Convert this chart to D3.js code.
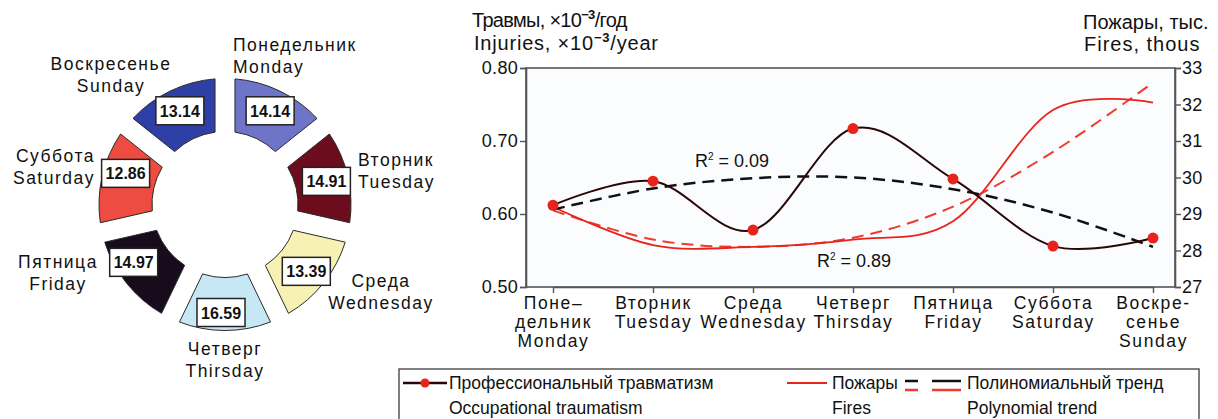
<!DOCTYPE html>
<html>
<head>
<meta charset="utf-8">
<script src="https://cdn.jsdelivr.net/npm/d3@7"></script>
<style>
  body { margin: 0; background: #fff; }
  text { font-family: "Liberation Sans", Arial, sans-serif; fill: #111; }
</style>
</head>
<body>
<svg id="chart" width="1218" height="419"></svg>
<script>
// ---- data ----
const days = ["Monday", "Tuesday", "Wednesday", "Thirsday", "Friday", "Saturday", "Sunday"];
const daysRu = ["Понедельник", "Вторник", "Среда", "Четверг", "Пятница", "Суббота", "Воскресенье"];
const shares = [14.14, 14.91, 13.39, 16.59, 14.97, 12.86, 13.14];
const ringColors = ["#6e75c8", "#6b0d1d", "#f7f1b4", "#c6e7f4", "#170b1c", "#ee4b41", "#2e40a6"];

const tickLines = [
  ["Поне–", "дельник", "Monday"],
  ["Вторник", "Tuesday"],
  ["Среда", "Wednesday"],
  ["Четверг", "Thirsday"],
  ["Пятница", "Friday"],
  ["Суббота", "Saturday"],
  ["Воскре-", "сенье", "Sunday"]
];

const injuries = [0.612, 0.645, 0.578, 0.717, 0.648, 0.556, 0.567];
const fires = [29.2, 28.15, 28.1, 28.3, 28.8, 31.85, 32.05];
const injuriesTrend = [0.606, 0.635, 0.649, 0.650, 0.634, 0.602, 0.555];
const firesTrend = [29.1, 28.3, 28.1, 28.35, 29.2, 30.7, 32.6];

const leftTicks = [0.5, 0.6, 0.7, 0.8];
const rightTicks = [27, 28, 29, 30, 31, 32, 33];

// where the two-line day names sit round the ring
const ringLabels = [
  {x: 233, y: 62, anchor: "start"},
  {x: 358, y: 177, anchor: "start"},
  {x: 381, y: 298, anchor: "middle"},
  {x: 225, y: 366, anchor: "middle"},
  {x: 58, y: 279, anchor: "middle"},
  {x: 95, y: 173, anchor: "end"},
  {x: 111, y: 81, anchor: "middle"}
];
// nudges for the value boxes (the original ring is drawn a bit unevenly)
const boxNudge = [[0, 0], [0, 0], [0, 2], [-4, 4], [-10, -7], [2, -8], [0, 0]];

const svg = d3.select("#chart");

// ---- left: ring of days ----
const ring = svg.append("g").attr("transform", "translate(225,204.5)");

const pie = d3.pie().value(1).sort(null);
const arcs = pie(shares);

const arc = d3.arc().innerRadius(73).outerRadius(126).padAngle(0.137);
const boxArc = d3.arc().innerRadius(104).outerRadius(104);

ring.selectAll("path.seg")
  .data(arcs)
  .enter().append("path")
    .attr("class", "seg")
    .attr("d", arc)
    .attr("fill", (d, i) => ringColors[i])
    .attr("stroke", "#2a2a2a")
    .attr("stroke-width", 1);

const box = ring.selectAll("g.box")
  .data(arcs)
  .enter().append("g")
    .attr("class", "box")
    .attr("transform", (d, i) => {
      const c = boxArc.centroid(d);
      return "translate(" + (c[0] + boxNudge[i][0]) + "," + (c[1] + boxNudge[i][1]) + ")";
    });

box.append("rect")
  .attr("x", -24).attr("y", -14)
  .attr("width", 48).attr("height", 28)
  .attr("fill", "#fff")
  .attr("stroke", "#222")
  .attr("stroke-width", 1.5);

box.append("text")
  .attr("text-anchor", "middle")
  .attr("dy", 6)
  .style("font-size", "16px")
  .style("font-weight", "bold")
  .text(d => d.data.toFixed(2));

const ringText = svg.append("g").selectAll("text")
  .data(days)
  .enter().append("text")
    .attr("text-anchor", (d, i) => ringLabels[i].anchor)
    .style("font-size", "17.5px")
    .style("letter-spacing", "1.5px");

ringText.append("tspan")
  .attr("x", (d, i) => ringLabels[i].x)
  .attr("y", (d, i) => ringLabels[i].y - 11)
  .text((d, i) => daysRu[i]);
ringText.append("tspan")
  .attr("x", (d, i) => ringLabels[i].x)
  .attr("y", (d, i) => ringLabels[i].y + 11)
  .text(d => d);

// ---- right: lines ----
const plot = {left: 526, right: 1175, top: 68, bottom: 287};

const x = d3.scalePoint().domain(days).range([553, 1153]);
const yL = d3.scaleLinear().domain([0.5, 0.8]).range([plot.bottom, plot.top]);
const yR = d3.scaleLinear().domain([27, 33]).range([plot.bottom, plot.top]);

svg.append("rect")
  .attr("x", plot.left).attr("y", plot.top)
  .attr("width", plot.right - plot.left).attr("height", plot.bottom - plot.top)
  .attr("fill", "#fbfcfd")
  .attr("stroke", "#555")
  .attr("stroke-width", 1.6);

const leftAxis = svg.append("g")
  .attr("transform", "translate(" + plot.left + ",0)")
  .call(d3.axisLeft(yL).tickValues(leftTicks).tickFormat(d3.format(".2f")).tickSize(6).tickPadding(2));

const rightAxis = svg.append("g")
  .attr("transform", "translate(" + plot.right + ",0)")
  .call(d3.axisRight(yR).tickValues(rightTicks).tickFormat(d3.format("d")).tickSize(6).tickPadding(1));

const bottomAxis = svg.append("g")
  .attr("transform", "translate(0," + plot.bottom + ")")
  .call(d3.axisBottom(x).tickSize(6).tickSizeOuter(0).tickFormat(""));

[leftAxis, rightAxis, bottomAxis].forEach(a => {
  a.select(".domain").attr("stroke", "#555").attr("stroke-width", 1.6);
  a.selectAll(".tick line").attr("stroke", "#555").attr("stroke-width", 1.4);
  a.selectAll(".tick text")
    .style("font-size", "18px")
    .style("letter-spacing", "0.3px")
    .attr("fill", "#111");
});

bottomAxis.selectAll(".tick").each(function(d, i) {
  const t = d3.select(this).append("text")
    .attr("text-anchor", "middle")
    .attr("fill", "#111")
    .style("font-size", "17.5px")
    .style("letter-spacing", "1.6px");
  tickLines[i].forEach((s, k) => {
    t.append("tspan").attr("x", 0).attr("y", 22 + k * 19).text(s);
  });
});

const line = d3.line().curve(d3.curveCardinal.tension(0));

const pts = (vals, y) => vals.map((v, i) => [x(days[i]), y(v)]);

svg.append("path")
  .attr("d", line(pts(firesTrend, yR)))
  .attr("fill", "none")
  .attr("stroke", "#ee3b2e")
  .attr("stroke-width", 2)
  .attr("stroke-dasharray", "12,7");

svg.append("path")
  .attr("d", line(pts(fires, yR)))
  .attr("fill", "none")
  .attr("stroke", "#e8231c")
  .attr("stroke-width", 1.8);

svg.append("path")
  .attr("d", line(pts(injuriesTrend, yL)))
  .attr("fill", "none")
  .attr("stroke", "#111")
  .attr("stroke-width", 2.5)
  .attr("stroke-dasharray", "12,7");

svg.append("path")
  .attr("d", line(pts(injuries, yL)))
  .attr("fill", "none")
  .attr("stroke", "#2a0606")
  .attr("stroke-width", 2);

svg.append("g").selectAll("circle")
  .data(injuries)
  .enter().append("circle")
    .attr("cx", (d, i) => x(days[i]))
    .attr("cy", d => yL(d))
    .attr("r", 5.5)
    .attr("fill", "#e8231c");

// R² notes
const r2 = (px, py, val) => {
  const t = svg.append("text").attr("x", px).attr("y", py).style("font-size", "18px");
  t.append("tspan").text("R");
  t.append("tspan").attr("dy", -7).style("font-size", "10px").text("2");
  t.append("tspan").attr("dy", 7).text(" = " + val);
};
r2(695, 167, "0.09");
r2(817, 267, "0.89");

// axis titles
const title = (px, py, anchor, spacing, before, after) => {
  const t = svg.append("text").attr("x", px).attr("y", py)
    .attr("text-anchor", anchor).style("font-size", "20px")
    .style("letter-spacing", spacing + "px");
  t.append("tspan").text(before);
  if (after !== undefined) {
    t.append("tspan").attr("dy", -8).style("font-size", "13px").style("font-weight", "bold").text("−3");
    t.append("tspan").attr("dy", 8).text(after);
  }
};
title(472, 27, "start", -0.7, "Травмы, ×10", "/год");
title(474, 50, "start", 0.8, "Injuries, ×10", "/year");
title(1083, 29, "start", 0, "Пожары, тыс.");
title(1084, 51, "start", 1, "Fires, thous");

// ---- legend ----
const lg = svg.append("g");
lg.append("rect")
  .attr("x", 399).attr("y", 369)
  .attr("width", 800).attr("height", 70)
  .attr("fill", "none")
  .attr("stroke", "#555")
  .attr("stroke-width", 1.5);

lg.append("line").attr("x1", 403).attr("x2", 447).attr("y1", 383).attr("y2", 383)
  .attr("stroke", "#2a0606").attr("stroke-width", 2.5);
lg.append("circle").attr("cx", 425).attr("cy", 383).attr("r", 4.5).attr("fill", "#e8231c");

lg.append("line").attr("x1", 787).attr("x2", 827).attr("y1", 383).attr("y2", 383)
  .attr("stroke", "#e8231c").attr("stroke-width", 2);

lg.append("line").attr("x1", 905).attr("x2", 961).attr("y1", 381).attr("y2", 381)
  .attr("stroke", "#111").attr("stroke-width", 2.5).attr("stroke-dasharray", "13,14,29");
lg.append("line").attr("x1", 905).attr("x2", 961).attr("y1", 390).attr("y2", 390)
  .attr("stroke", "#ee3b2e").attr("stroke-width", 2.5).attr("stroke-dasharray", "13,14,29");

const legendText = [
  {x: 449, a: "Профессиональный травматизм", b: "Occupational traumatism"},
  {x: 832, a: "Пожары", b: "Fires"},
  {x: 967, a: "Полиномиальный тренд", b: "Polynomial trend"}
];
legendText.forEach(l => {
  lg.append("text").attr("x", l.x).attr("y", 389).style("font-size", "17.5px").text(l.a);
  lg.append("text").attr("x", l.x).attr("y", 414).style("font-size", "17.5px").text(l.b);
});
</script>
</body>
</html>
